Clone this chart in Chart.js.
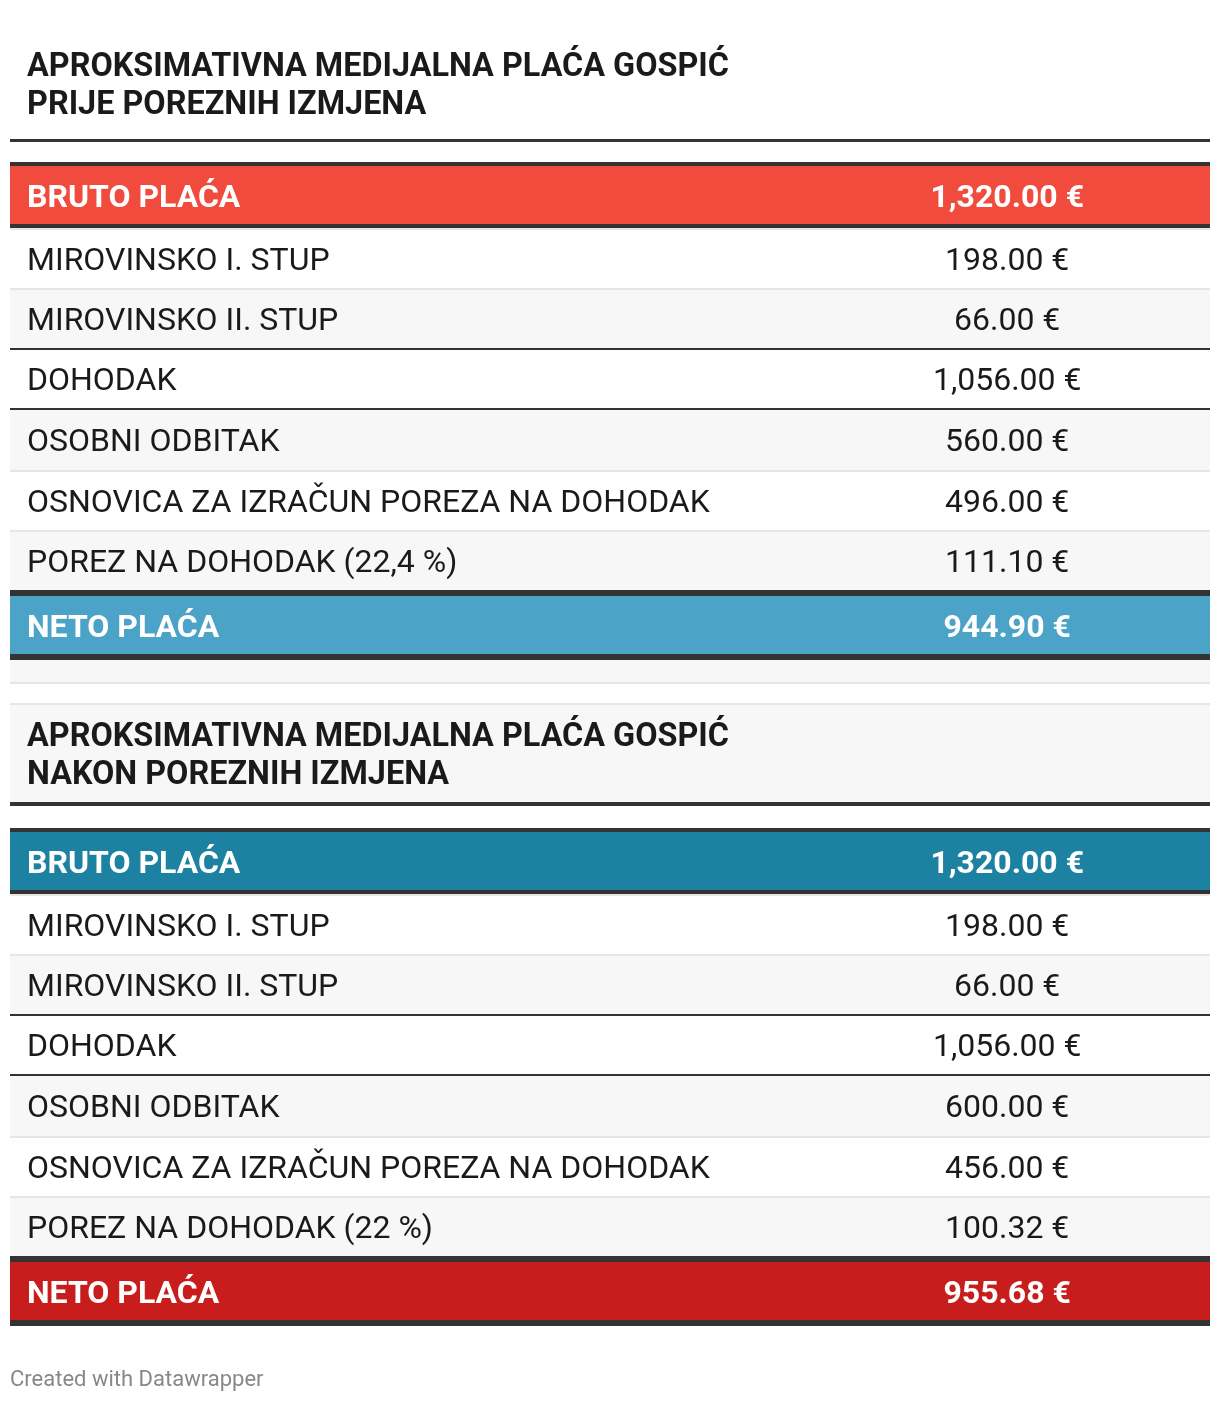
<!DOCTYPE html>
<html lang="hr">
<head>
<meta charset="utf-8">
<title>Aproksimativna medijalna plaća Gospić</title>
<script src="https://cdn.jsdelivr.net/npm/chart.js@4.4.1/dist/chart.umd.min.js"></script>
<style>
  html, body { margin: 0; padding: 0; background: #fff; }
  #chart { display: block; }
</style>
</head>
<body>
<canvas id="chart" width="1220" height="1402"></canvas>
<script>
// table contents
var titleBefore = ['APROKSIMATIVNA MEDIJALNA PLAĆA GOSPIĆ', 'PRIJE POREZNIH IZMJENA'];
var titleAfter = ['APROKSIMATIVNA MEDIJALNA PLAĆA GOSPIĆ', 'NAKON POREZNIH IZMJENA'];
var itemsBefore = ['BRUTO PLAĆA', 'MIROVINSKO I. STUP', 'MIROVINSKO II. STUP', 'DOHODAK',
  'OSOBNI ODBITAK', 'OSNOVICA ZA IZRAČUN POREZA NA DOHODAK', 'POREZ NA DOHODAK (22,4 %)', 'NETO PLAĆA'];
var itemsAfter = ['BRUTO PLAĆA', 'MIROVINSKO I. STUP', 'MIROVINSKO II. STUP', 'DOHODAK',
  'OSOBNI ODBITAK', 'OSNOVICA ZA IZRAČUN POREZA NA DOHODAK', 'POREZ NA DOHODAK (22 %)', 'NETO PLAĆA'];
var valuesBefore = [1320.00, 198.00, 66.00, 1056.00, 560.00, 496.00, 111.10, 944.90];
var valuesAfter = [1320.00, 198.00, 66.00, 1056.00, 600.00, 456.00, 100.32, 955.68];
var footerText = 'Created with Datawrapper';

var DARK = '#333333', LIGHT = '#e6e6e6', STRIPE = '#f7f7f7', WHITE = '#ffffff';
var FONT = 'Roboto, "Noto Sans", sans-serif';

// row layout (heights in table units), one entry per item row
var itemLayout = [
  { h: 66, border: { top: 4, bottom: 4 }, line: DARK, strong: true },
  { h: 60, bg: WHITE, border: { top: 2 }, line: LIGHT },
  { h: 60, bg: STRIPE, border: { top: 2 }, line: LIGHT },
  { h: 60, bg: WHITE, border: { top: 2 }, line: DARK },
  { h: 62, bg: STRIPE, border: { top: 2 }, line: DARK },
  { h: 60, bg: WHITE, border: { top: 2 }, line: LIGHT },
  { h: 60, bg: STRIPE, border: { top: 2 }, line: LIGHT },
  { h: 70, border: { top: 6, bottom: 6 }, line: DARK, strong: true }
];

function fmt(v) {
  var parts = v.toFixed(2).split('.');
  parts[0] = parts[0].replace(/\B(?=(\d{3})+(?!\d))/g, ',');
  return parts.join('.') + ' €';
}

var rows = [];
var pos = 0;
function addRow(r) {
  r.start = pos;
  r.end = pos + r.h;
  pos = r.end;
  rows.push(r);
}
function addTable(title, titleStyle, items, values, brutoColor, netoColor) {
  addRow(Object.assign({ title: title }, titleStyle));
  addRow({ h: titleStyle.gap, bg: WHITE });
  items.forEach(function (label, i) {
    var l = itemLayout[i];
    var bg = l.bg;
    if (i === 0) bg = brutoColor;
    if (i === items.length - 1) bg = netoColor;
    addRow({ h: l.h, bg: bg, border: l.border, line: l.line, strong: l.strong,
      label: label, value: fmt(values[i]) });
  });
}

addTable(titleBefore, { h: 142, bg: WHITE, border: { bottom: 3 }, line: DARK, lines: [66, 28], gap: 20 },
  itemsBefore, valuesBefore, '#f04b3c', '#4ba3c7');
addRow({ h: 22, bg: STRIPE });
addRow({ h: 23, bg: WHITE, border: { top: 2, bottom: 2 }, line: LIGHT });
addTable(titleAfter, { h: 101, bg: STRIPE, border: { bottom: 4 }, line: DARK, lines: [60, 22], gap: 22 },
  itemsAfter, valuesAfter, '#1d81a2', '#c71e1d');

var datasets = rows.map(function (r) {
  var b = r.border || {};
  return {
    data: [[r.start, r.end]],
    backgroundColor: r.bg,
    borderColor: r.line || r.bg,
    borderWidth: { top: b.top || 0, bottom: b.bottom || 0, left: 0, right: 0 },
    borderSkipped: false,
    inflateAmount: 0,
    grouped: false,
    barPercentage: 1,
    categoryPercentage: 1
  };
});

var valueColumn = 0.831;

var tableText = {
  id: 'tableText',
  afterDatasetsDraw: function (chart) {
    var ctx = chart.ctx;
    var x = chart.scales.x, y = chart.scales.y;
    var left = x.left, width = x.right - x.left;
    ctx.save();
    rows.forEach(function (r) {
      var top = y.getPixelForValue(r.start);
      var bottom = y.getPixelForValue(r.end);
      if (r.title) {
        ctx.font = '700 32.4px ' + FONT;
        ctx.fillStyle = '#1a1a1a';
        ctx.textAlign = 'left';
        ctx.textBaseline = 'alphabetic';
        r.title.forEach(function (line, k) {
          ctx.fillText(line, left + 17, bottom - r.lines[k]);
        });
      } else if (r.label) {
        var base = (top + bottom) / 2 + 11.5;
        ctx.font = (r.strong ? '700 ' : '400 ') + '32px ' + FONT;
        ctx.fillStyle = r.strong ? '#ffffff' : '#1a1a1a';
        ctx.textBaseline = 'alphabetic';
        ctx.textAlign = 'left';
        ctx.fillText(r.label, left + 17, base);
        ctx.textAlign = 'center';
        ctx.fillText(r.value, left + width * valueColumn, base);
      }
    });
    ctx.restore();
  },
  afterDraw: function (chart) {
    var ctx = chart.ctx;
    ctx.save();
    ctx.font = '400 22px ' + FONT;
    ctx.fillStyle = '#888888';
    ctx.textAlign = 'left';
    ctx.textBaseline = 'alphabetic';
    ctx.fillText(footerText, chart.scales.x.left, chart.scales.y.bottom + 60);
    ctx.restore();
  }
};

function draw() {
  new Chart(document.getElementById('chart'), {
    type: 'bar',
    data: { labels: ['tablica'], datasets: datasets },
    options: {
      responsive: false,
      animation: false,
      events: [],
      layout: { padding: { left: 10, right: 10, top: 0, bottom: 76 } },
      plugins: { legend: { display: false }, tooltip: { enabled: false } },
      scales: {
        x: { display: false },
        y: { display: false, min: 0, max: pos, reverse: true }
      }
    },
    plugins: [tableText]
  });
}

if (document.fonts && document.fonts.load) {
  Promise.all([
    document.fonts.load('400 32px Roboto'),
    document.fonts.load('700 32px Roboto')
  ]).then(draw, draw);
} else {
  draw();
}
</script>
</body>
</html>
